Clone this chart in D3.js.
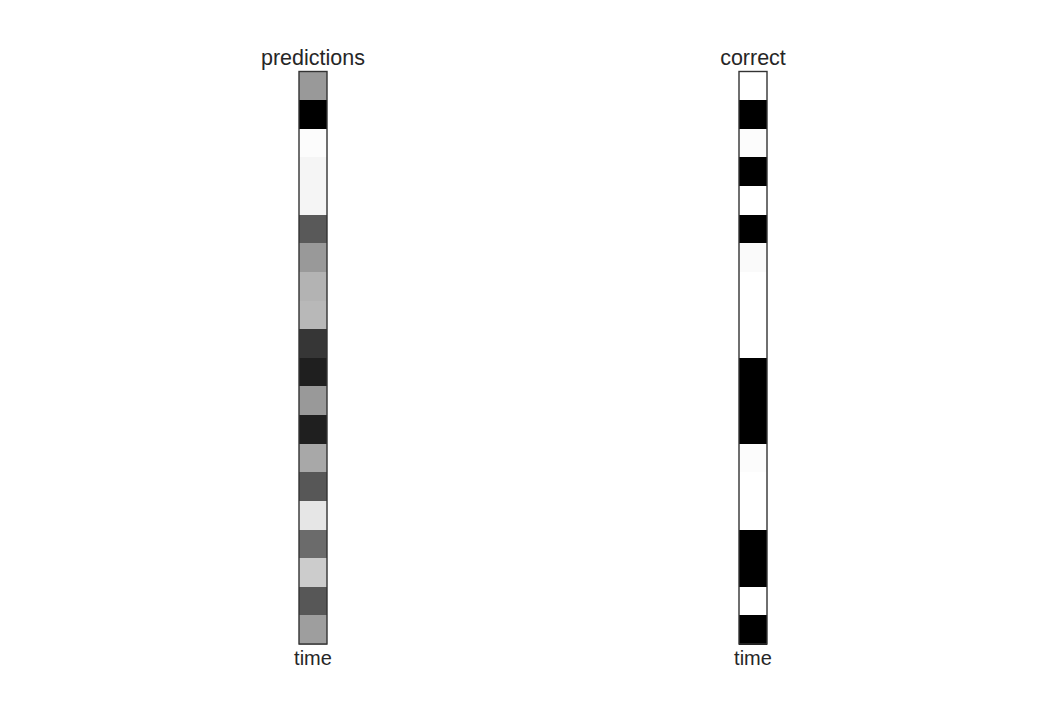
<!DOCTYPE html>
<html>
<head>
<meta charset="utf-8">
<script src="https://cdn.jsdelivr.net/npm/d3@7"></script>
<style>
  html, body { margin: 0; padding: 0; background: #ffffff; }
  svg { display: block; }
  text { font-family: "Liberation Sans", Arial, sans-serif; fill: #262626; }
</style>
</head>
<body>
<svg id="chart" width="1040" height="715"></svg>
<script>
// Panels
const panels = ["predictions", "correct"];
const timeSteps = d3.range(20);
const xLabel = "time";

// Predicted intensity per time step (0 = black, 1 = white)
const predictions = [0.60, 0.00, 0.99, 0.96, 0.96, 0.35, 0.60, 0.70, 0.72, 0.21,
                     0.12, 0.60, 0.12, 0.66, 0.34, 0.90, 0.42, 0.80, 0.34, 0.62];
// Correct target per time step
const correct = [1.00, 0.00, 0.99, 0.00, 1.00, 0.00, 0.98, 1.00, 1.00, 1.00,
                 0.00, 0.00, 0.00, 0.99, 1.00, 1.00, 0.00, 0.00, 1.00, 0.00];

const seriesByPanel = { predictions: predictions, correct: correct };

const svg = d3.select("#chart");

const stripWidth = 28;
const panelX = d3.scalePoint().domain(panels).range([313, 753]);
const y = d3.scaleBand().domain(timeSteps).range([71.5, 644]).paddingInner(0).paddingOuter(0);
const color = d3.scaleLinear().domain([0, 1]).range(["#000000", "#ffffff"]).interpolate(d3.interpolateRgb);

panels.forEach(p => {
  const cx = panelX(p);
  const x0 = cx - stripWidth / 2;
  const g = svg.append("g");
  g.selectAll("rect.cell")
    .data(seriesByPanel[p])
    .join("rect")
    .attr("class", "cell")
    .attr("x", x0)
    .attr("y", (d, i) => y(i))
    .attr("width", stripWidth)
    .attr("height", y.bandwidth() + 0.5)
    .attr("fill", d => color(d))
    .attr("shape-rendering", "crispEdges");

  g.append("rect")
    .attr("x", x0)
    .attr("y", y.range()[0])
    .attr("width", stripWidth)
    .attr("height", y.range()[1] - y.range()[0])
    .attr("fill", "none")
    .attr("stroke", "#333333")
    .attr("stroke-width", 1.4);

  g.append("text")
    .attr("x", cx)
    .attr("y", 65)
    .attr("text-anchor", "middle")
    .attr("font-size", 21.5)
    .text(p);

  g.append("text")
    .attr("x", cx)
    .attr("y", 665)
    .attr("text-anchor", "middle")
    .attr("font-size", 20)
    .text(xLabel);
});
</script>
</body>
</html>
